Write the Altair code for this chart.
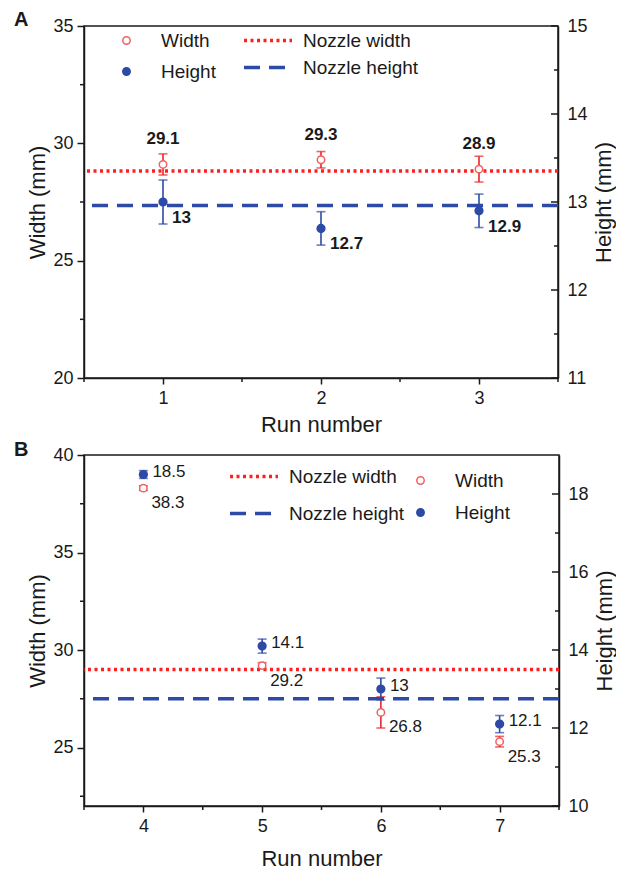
import altair as alt
import pandas as pd

# ---------------- data ----------------
runs_a = [1, 2, 3]
width_a = [29.1, 29.3, 28.9]
width_err_a = [0.45, 0.35, 0.55]
height_a = [13.0, 12.7, 12.9]
height_err_a = [0.25, 0.19, 0.19]
nozzle_width_a = [28.82]
nozzle_height_a = [12.96]

runs_b = [4, 5, 6, 7]
width_b = [38.3, 29.2, 26.8, 25.3]
width_err_b = [0.12, 0.15, 0.8, 0.27]
height_b = [18.5, 14.1, 13.0, 12.1]
height_err_b = [0.1, 0.18, 0.28, 0.22]
nozzle_width_b = [29.0]
nozzle_height_b = [12.75]

series_names = ["Width", "Height"]
nozzle_names = ["Nozzle width", "Nozzle height"]

x_major_a = [1, 2, 3]
x_minor_a = [0.5, 1.5, 2.5, 3.5]
left_major_a = [20, 25, 30, 35]
left_minor_a = [22.5, 27.5, 32.5]
right_major_a = [11, 12, 13, 14, 15]
right_minor_a = [11.5, 12.5, 13.5, 14.5]

x_major_b = [4, 5, 6, 7]
x_minor_b = [3.5, 4.5, 5.5, 6.5, 7.5]
left_major_b = [25, 30, 35, 40]
left_minor_b = [22.5, 27.5, 32.5, 37.5]
right_major_b = [10, 12, 14, 16, 18]
right_minor_b = [11, 13, 15, 17]

# ---------------- style ----------------
FONT = "Liberation Sans"
RED = "#ec2327"
RED_LIGHT = "#f0605f"
RED_LINE = "#ff1f1f"
BLUE = "#2c4aa6"
INK = "#1a1a1a"
DOT = [3, 3.5]
DASH = [16, 9]


def frame(xs, vals, errs, name):
    return pd.DataFrame({
        "run": xs,
        "value": vals,
        "lo": [v - e for v, e in zip(vals, errs)],
        "hi": [v + e for v, e in zip(vals, errs)],
        "series": name,
        "label": [f"{v:g}" for v in vals],
    })


def line_leg(x, y, entry, extra):
    d = dict(orient="none", legendX=x, legendY=y, title=None, labelFont=FONT,
             labelFontSize=19, labelColor=INK, labelOffset=9, values=[entry],
             symbolSize=2304, symbolType="stroke", symbolStrokeWidth=3.5,
             padding=0, labelLimit=300)
    d.update(extra)
    return alt.Legend(**d)


def panel(letter, runs, wv, we, hv, he, nw, nh, xdom, xmaj, xmin,
          ldom, lmaj, lmin, rdom, rmaj, rmin, W, H,
          bold, wlab, hlab, leg_pts, lx, ly_w, ly_h, xtitle_pad, title_off):
    dfw = frame(runs, wv, we, "Width")
    dfh = frame(runs, hv, he, "Height")
    dnw = pd.DataFrame({"value": nw, "nozzle": ["Nozzle width"]})
    dnh = pd.DataFrame({"value": nh, "nozzle": ["Nozzle height"]})

    xscale = alt.Scale(domain=xdom, nice=False, zero=False)
    xaxis = alt.Axis(values=xmaj, title="Run number", format="d", tickSize=6,
                     labelPadding=5, titlePadding=xtitle_pad)
    X = lambda f: alt.X(f, type="quantitative", scale=xscale, axis=xaxis)
    lscale = alt.Scale(domain=ldom, nice=False, zero=False)
    laxis = alt.Axis(orient="left", values=lmaj, title="Width (mm)", tickSize=7,
                     labelPadding=4, titlePadding=3)
    YL = lambda f: alt.Y(f, type="quantitative", scale=lscale, axis=laxis)
    rscale = alt.Scale(domain=rdom, nice=False, zero=False)
    raxis = alt.Axis(orient="right", values=rmaj, title="Height (mm)",
                     ticks=False, labelPadding=9, titlePadding=6,
                     titleAngle=270, titleBaseline="top")
    YR = lambda f: alt.Y(f, type="quantitative", scale=rscale, axis=raxis)

    stroke_enc = alt.Stroke("series:N", scale=alt.Scale(domain=series_names, range=[RED_LIGHT, BLUE]),
                            legend=alt.Legend(**leg_pts))
    fill_enc = alt.Fill("series:N", scale=alt.Scale(domain=series_names, range=["white", BLUE]),
                        legend=alt.Legend(**leg_pts))
    # colour legend shows the "Nozzle width" entry, dash legend the "Nozzle height" entry
    col_enc = alt.Color("nozzle:N",
                        scale=alt.Scale(domain=nozzle_names, range=[RED_LINE, BLUE]),
                        legend=line_leg(lx, ly_w, "Nozzle width", {"symbolDash": DOT}))
    dash_enc = alt.StrokeDash("nozzle:N",
                              scale=alt.Scale(domain=nozzle_names[::-1], range=[DASH, DOT]),
                              legend=line_leg(lx, ly_h, "Nozzle height", {"symbolStrokeColor": BLUE}))

    fw = "bold" if bold else "normal"

    # minor ticks (outward on left / bottom)
    x_minor = alt.Chart(pd.DataFrame({"value": xmin})).mark_rule(color=INK, strokeWidth=1.5).encode(
        x=X("value"), y=alt.value(H), y2=alt.value(H + 4))
    l_minor = alt.Chart(pd.DataFrame({"value": lmin})).mark_rule(color=INK, strokeWidth=1.5).encode(
        y=YL("value"), x=alt.value(0), x2=alt.value(-4))

    # ---- width (left axis) ----
    w_noz = alt.Chart(dnw).mark_rule(strokeWidth=3.5).encode(
        y=YL("value"), strokeDash=dash_enc, color=col_enc)
    w_bar = alt.Chart(dfw).mark_rule(color=RED, strokeWidth=1.6).encode(x=X("run"), y=YL("lo"), y2="hi")
    w_cap_lo = alt.Chart(dfw).mark_tick(color=RED, orient="horizontal", size=9, thickness=1.6).encode(x=X("run"), y=YL("lo"))
    w_cap_hi = alt.Chart(dfw).mark_tick(color=RED, orient="horizontal", size=9, thickness=1.6).encode(x=X("run"), y=YL("hi"))
    w_pts = alt.Chart(dfw).mark_point(shape="circle", size=55, strokeWidth=1.5, opacity=1).encode(
        x=X("run"), y=YL("value"), stroke=stroke_enc, fill=fill_enc)
    w_txt = alt.Chart(dfw).mark_text(font=FONT, fontSize=17, fontWeight=fw, color=INK,
                                     baseline="middle", **wlab).encode(
        x=X("run"), y=YL("value"), text="label:N")
    width_layer = alt.layer(x_minor, l_minor, w_noz, w_bar, w_cap_lo, w_cap_hi, w_pts, w_txt)

    # ---- height (right axis) ----
    h_noz = alt.Chart(dnh).mark_rule(strokeWidth=3.5).encode(
        y=YR("value"), strokeDash=dash_enc, color=col_enc)
    h_bar = alt.Chart(dfh).mark_rule(color=BLUE, strokeWidth=1.6).encode(x=X("run"), y=YR("lo"), y2="hi")
    h_cap_lo = alt.Chart(dfh).mark_tick(color=BLUE, orient="horizontal", size=9, thickness=1.6).encode(x=X("run"), y=YR("lo"))
    h_cap_hi = alt.Chart(dfh).mark_tick(color=BLUE, orient="horizontal", size=9, thickness=1.6).encode(x=X("run"), y=YR("hi"))
    h_pts = alt.Chart(dfh).mark_point(shape="circle", size=60, strokeWidth=1.5, opacity=1).encode(
        x=X("run"), y=YR("value"), stroke=stroke_enc, fill=fill_enc)
    h_txt = alt.Chart(dfh).mark_text(font=FONT, fontSize=17, fontWeight=fw, color=INK,
                                     baseline="middle", align="left", **hlab).encode(
        x=X("run"), y=YR("value"), text="label:N")
    tick_maj = alt.Chart(pd.DataFrame({"value": rmaj})).mark_rule(color=INK, strokeWidth=1.5).encode(
        y=YR("value"), x=alt.value(W), x2=alt.value(W - 7))
    tick_min = alt.Chart(pd.DataFrame({"value": rmin})).mark_rule(color=INK, strokeWidth=1.5).encode(
        y=YR("value"), x=alt.value(W), x2=alt.value(W - 4))
    height_layer = alt.layer(h_noz, h_bar, h_cap_lo, h_cap_hi, h_pts, h_txt, tick_maj, tick_min)

    return alt.layer(width_layer, height_layer).resolve_scale(y="independent").properties(
        width=W, height=H,
        title=alt.TitleParams(letter, anchor="start", fontSize=20, fontWeight="bold",
                              font=FONT, color=INK, dx=-13, offset=title_off))


def pts_leg(x, y, row_pad):
    return dict(orient="none", legendX=x, legendY=y, title=None, labelFont=FONT,
                labelFontSize=19, labelColor=INK, labelOffset=25, rowPadding=row_pad,
                symbolSize=55, symbolType="circle", symbolStrokeWidth=1.5,
                padding=0, labelLimit=300)


panel_a = panel(
    "A", runs_a, width_a, width_err_a, height_a, height_err_a,
    nozzle_width_a, nozzle_height_a, [0.5, 3.5], x_major_a, x_minor_a,
    [20, 35], left_major_a, left_minor_a, [11, 15], right_major_a, right_minor_a, 474, 352,
    True, dict(dy=-25), dict(dx=9, dy=16),
    pts_leg(33, 5, 11), 158, -11.5, 15.5,
    7, -15,
)

panel_b = panel(
    "B", runs_b, width_b, width_err_b, height_b, height_err_b,
    nozzle_width_b, nozzle_height_b, [3.5, 7.5], x_major_b, x_minor_b,
    [22, 40], left_major_b, left_minor_b, [10, 19], right_major_b, right_minor_b, 475, 351,
    False, dict(align="left", dx=8, dy=15), dict(dx=9, dy=-3),
    pts_leg(327, 16, 12), 144, -4.5, 32.5,
    13, -14,
)

chart = alt.vconcat(panel_a, panel_b, spacing=3).resolve_scale(
    stroke="independent", fill="independent", strokeDash="independent", color="independent"
).resolve_legend(
    stroke="independent", fill="independent", strokeDash="independent", color="independent"
).properties(
    padding={"left": 13, "top": 8, "right": 0, "bottom": 0}
).configure_view(
    stroke=INK, strokeWidth=1.5
).configure_axis(
    labelFont=FONT, labelFontSize=18, labelColor=INK,
    titleFont=FONT, titleFontSize=22, titleFontWeight="normal", titleColor=INK,
    domainColor=INK, domainWidth=1.5, tickColor=INK, tickWidth=1.5, grid=False
)

chart.save("out.html", embed_options={"renderer": "svg", "actions": False})
